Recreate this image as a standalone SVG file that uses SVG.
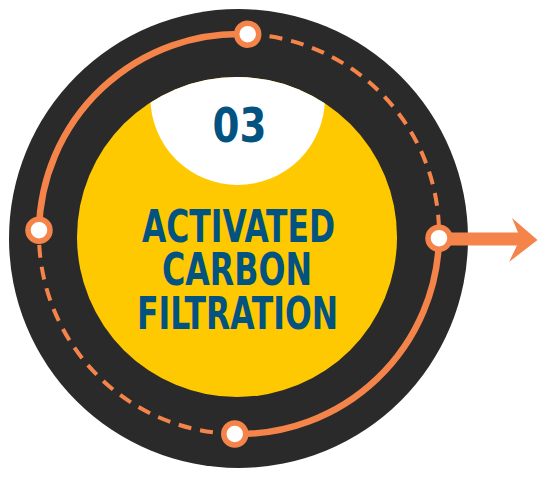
<svg xmlns="http://www.w3.org/2000/svg" width="545" height="477" viewBox="0 0 545 477">
  <style>
    .solid { fill: none; stroke: #F5844A; stroke-width: 6.5; }
    .dashed { fill: none; stroke: #F5844A; stroke-width: 4; stroke-dasharray: 13 9; }
    .node { fill: #FFFFFF; stroke: #F5844A; stroke-width: 5.5; }
    .label { font-family: "Liberation Sans Narrow", "DejaVu Sans Condensed", "Liberation Sans", sans-serif; font-weight: bold; fill: #02537F; text-anchor: middle; }
  </style>
  <defs>
    <clipPath id="yellowClip">
      <circle cx="237" cy="237" r="160"/>
    </clipPath>
  </defs>
  <rect width="545" height="477" fill="#FFFFFF"/>
  <g id="ring">
    <circle cx="238.5" cy="238.5" r="229.5" fill="#2A2A2A"/>
  </g>
  <g id="center">
    <circle cx="237" cy="237" r="160" fill="#FFC902"/>
    <circle cx="237.7" cy="97.7" r="87.3" fill="#FFFFFF" clip-path="url(#yellowClip)"/>
    <text class="label" x="239.5" y="141.7" font-size="48" textLength="54" lengthAdjust="spacingAndGlyphs">03</text>
    <text class="label" x="238.5" y="242" font-size="44" textLength="193" lengthAdjust="spacingAndGlyphs">ACTIVATED</text>
    <text class="label" x="237" y="285" font-size="44" textLength="150" lengthAdjust="spacingAndGlyphs">CARBON</text>
    <text class="label" x="237.5" y="329" font-size="44" textLength="201" lengthAdjust="spacingAndGlyphs">FILTRATION</text>
  </g>
  <g id="connectors">
    <path class="solid" d="M39,230.2 A200,200 0 0 1 247.7,34.2"/>
    <path class="dashed" d="M247.7,34.2 A200,200 0 0 1 439,238.2"/>
    <path class="solid" d="M439,238.2 A200,200 0 0 1 234.8,434"/>
    <path class="dashed" d="M234.8,434 A200,200 0 0 1 39,230.2"/>
    <polygon fill="#F5844A" points="445,232.5 518,232.5 512,218 537.5,240 509,262 517,245.5 445,245.5"/>
  </g>
  <g id="node-top"><circle class="node" cx="247.7" cy="34.2" r="11"/></g>
  <g id="node-right"><circle class="node" cx="439" cy="238.2" r="11"/></g>
  <g id="node-bottom"><circle class="node" cx="234.8" cy="434" r="11"/></g>
  <g id="node-left"><circle class="node" cx="39" cy="230.2" r="11"/></g>
</svg>
